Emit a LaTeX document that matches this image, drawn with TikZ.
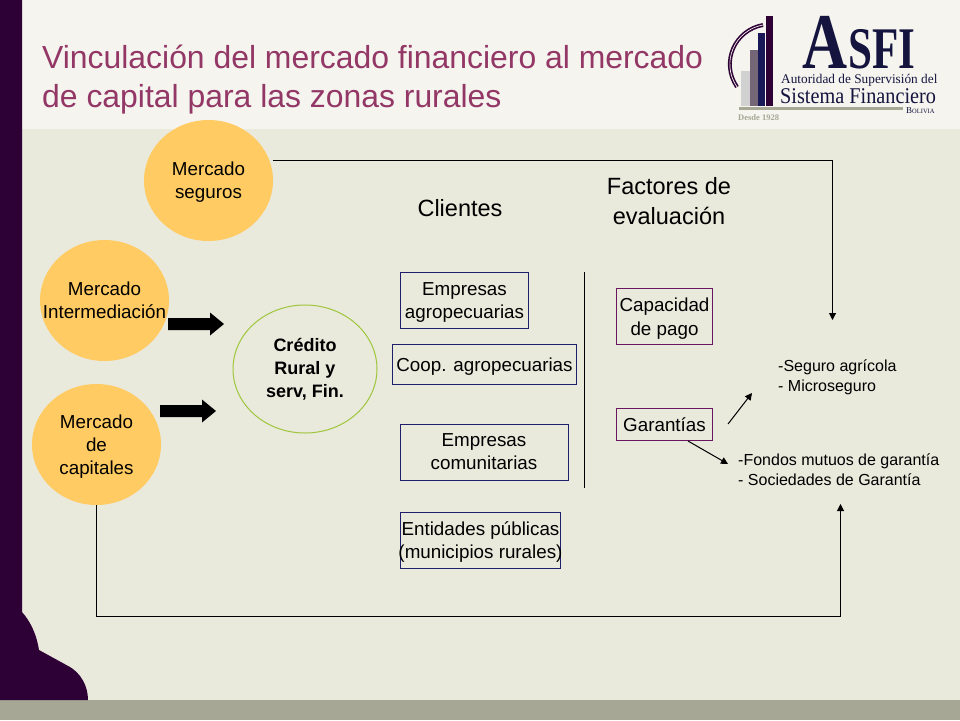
\documentclass[tikz,border=0pt]{standalone}
\usepackage{fontspec}
\setmainfont{Liberation Sans}
\newfontfamily\logofont{Liberation Serif}
\usetikzlibrary{arrows.meta}
\usetikzlibrary{calc}
\usetikzlibrary{shapes.geometric}

\definecolor{plum}{HTML}{2D0036}
\definecolor{headbg}{HTML}{F5F4EE}
\definecolor{bodybg}{HTML}{E9E9DC}
\definecolor{footbg}{HTML}{A7A796}
\definecolor{titlecol}{HTML}{933766}
\definecolor{gold}{HTML}{FFCB62}
\definecolor{navy}{HTML}{1F1F6E}
\definecolor{boxplum}{HTML}{6B1560}
\definecolor{inknavy}{HTML}{14143F}

\begin{document}
\begin{tikzpicture}[x=1pt, y=-1pt,
mercado/.style={ellipse, fill=gold, minimum width=129pt, minimum height=121pt, inner sep=0pt, text depth=-1pt, align=center, font=\fontsize{18.8}{23}\selectfont},
cliente/.style={draw=navy, line width=1pt, inner sep=0pt, text depth=-2.5pt, align=center, font=\fontsize{18.8}{23}\selectfont},
factor/.style={draw=boxplum, line width=1pt, inner sep=0pt, text depth=-1.5pt, align=center, font=\fontsize{18.8}{24}\selectfont},
heading/.style={align=center, inner sep=0pt, font=\fontsize{23.5}{30}\selectfont},
lista/.style={align=left, inner sep=0pt, anchor=west, font=\fontsize{16}{20}\selectfont},
link/.style={black, line width=1pt, -{Triangle[length=7pt,width=7pt]}},
logotxt/.style={inknavy, inner sep=0pt, anchor=base west}]

\useasboundingbox (0,0) rectangle (960,720);

% BACKGROUND
\fill[bodybg] (0,0) rectangle (960,720);
\fill[headbg] (0,0) rectangle (960,129);
\fill[footbg] (0,700) rectangle (960,720);
\fill[plum] (0,0) -- (22,0) -- (22,612) .. controls (31,622) and (37,636) .. (39,650)
    -- (70,667) .. controls (80,673) and (88,685) .. (88,700) -- (0,700) -- cycle;

% title
\node[titlecol, inner sep=0pt, anchor=base west, align=left, font=\fontsize{31.9}{39}\selectfont] (titulo) at (42,107)
    {Vinculación del mercado financiero al mercado\\de capital para las zonas rurales};

% logo bars
\fill[black!18] (741,71) rectangle (750,106);
\fill[black!50!plum!60!white] (750,50) rectangle (757.5,106);
\fill[navy!80!black] (758,33) rectangle (765,106);
\fill[plum] (766,16) rectangle (773,106);
\fill[footbg] (739,107) rectangle (903,110);
\draw[plum, line width=1.6pt, double=headbg, double distance=0.7pt] (763,25) .. controls (735,30) and (720,62) .. (737,87);
\node[logotxt, font=\logofont\bfseries\fontsize{79}{79}\selectfont] (logoA) at (802,68) {\scalebox{0.79}[1]{A}};
\node[logotxt, font=\logofont\bfseries\fontsize{59}{59}\selectfont] (logoSFI) at (848,68) {\scalebox{0.73}[1]{SFI}};
\node[logotxt, font=\logofont\fontsize{13.3}{14}\selectfont] (logoAut) at (781,83) {Autoridad de Supervisión del};
\node[logotxt, font=\logofont\fontsize{22.5}{23}\selectfont] (logoSis) at (780,103) {\scalebox{0.9}[1]{Sistema Financiero}};
\node[logotxt, font=\logofont\fontsize{9}{9}\selectfont] (logoBol) at (906,113) {B{\fontsize{6.5}{6.5}\selectfont OLIVIA}};
\node[logotxt, footbg, font=\logofont\bfseries\fontsize{8.5}{8.5}\selectfont] (logoDesde) at (738,120) {Desde 1928};

% MERCADOS
\node[mercado] (seguros) at (208.5,180.5) {Mercado\\seguros};
\node[mercado] (interm) at (104.5,300.5) {Mercado\\\makebox[60pt]{Intermediación}};
\node[mercado] (capitales) at (96.5,444.5) {Mercado\\de\\capitales};

\node[ellipse, draw={rgb,255:red,159;green,198;blue,60}, line width=1pt, minimum width=144pt, minimum height=128pt, inner sep=0pt,
    align=center, font=\bfseries\fontsize{18}{23}\selectfont] (credito) at (305,369) {Crédito\\Rural y\\serv, Fin.};

% block arrows
\foreach \xa/\ya in {168/324,160/411}{
    \fill[black] (\xa,\ya-6) -- ++(42,0) -- ++(0,-5.5) -- ++(14,11.5) -- ++(-14,11.5) -- ++(0,-5.5) -- ++(-42,0) -- cycle;
}

% headings
\node[heading] (clientes) at (460,208) {Clientes};
\node[heading] (factores) at (669,201) {Factores de\\evaluación};

% CLIENTES
\node[cliente, minimum width=128pt, minimum height=56pt] (agro) at (464.5,300.5) {Empresas\\agropecuarias};
\node[cliente, minimum width=184pt, minimum height=40pt] (coop) at (484.5,364.5) {Coop. agropecuarias};
\node[cliente, minimum width=168pt, minimum height=56pt] (comun) at (484,452) {Empresas\\comunitarias};
\node[cliente, minimum width=160pt, minimum height=56pt] (entidades) at (480.5,540.5) {Entidades públicas\\\makebox[150pt]{(municipios rurales)}};
\draw[black, line width=1pt] (584.5,272) -- (584.5,488);

% FACTORES
\node[factor, minimum width=96pt, minimum height=56pt] (capacidad) at (664.5,316.5) {Capacidad\\de pago};
\node[factor, minimum width=96pt, minimum height=32pt] (garantias) at (664.5,424.5) {Garantías};

\node[lista] (seguro) at (778,377.5) {-Seguro agrícola\\- Microseguro};
\node[lista] (fondos) at (738,470) {-Fondos mutuos de garantía\\- Sociedades de Garantía};

% links
\coordinate (iniSeg) at ([xshift=3pt]seguros.18);
\coordinate (finSeg) at (832.5,320);
\coordinate (finCap) at (840.5,504);
\coordinate (bajoCap) at (96.5,616.5);
\coordinate (iniGar) at (728,424);
\coordinate (finGar) at (752,393);
\coordinate (iniFon) at ([xshift=23.5pt]garantias.south);
\coordinate (finFon) at (728,464);
\draw[link] (iniSeg) -- (iniSeg -| finSeg) -- (finSeg);
\draw[link] (capitales.south) -- (bajoCap) -- (bajoCap -| finCap) -- (finCap);
\draw[link] (iniGar) -- (finGar);
\draw[link] (iniFon) -- (finFon);

\end{tikzpicture}
\end{document}
